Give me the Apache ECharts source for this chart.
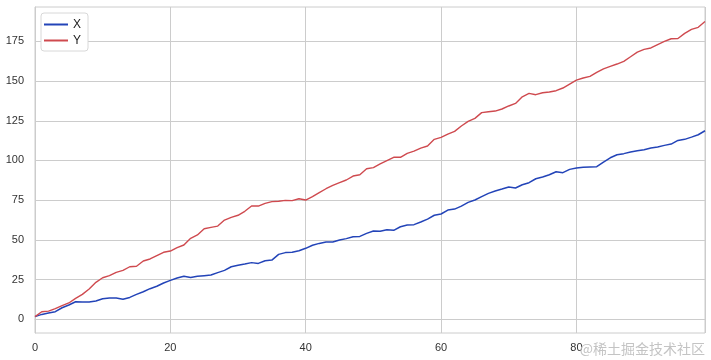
<!DOCTYPE html>
<html>
<head>
<meta charset="utf-8">
<script src="https://cdn.jsdelivr.net/npm/echarts@6/dist/echarts.min.js"></script>
<style>
html,body{margin:0;padding:0;background:#fff;}
#chart{width:711px;height:360px;}
</style>
</head>
<body>
<div id="chart"></div>
<script>
var seriesNames = ['X', 'Y'];
var xValues = [
  1.7, 3.1, 4.0, 4.8, 7.3, 9.0, 11.1, 10.9, 10.9, 11.5,
  13.0, 13.4, 13.4, 12.6, 13.8, 15.7, 17.4, 19.3, 20.8, 22.9,
  24.5, 26.0, 27.1, 26.4, 27.1, 27.5, 27.9, 29.4, 30.8, 33.1,
  34.0, 34.8, 35.7, 35.2, 36.9, 37.3, 40.9, 42.0, 42.2, 43.2,
  44.7, 46.6, 47.8, 48.7, 48.7, 49.9, 50.8, 52.0, 52.2, 54.1,
  55.6, 55.4, 56.4, 56.0, 58.3, 59.4, 59.6, 61.3, 63.1, 65.5,
  66.3, 68.8, 69.4, 71.3, 73.6, 75.1, 77.2, 79.3, 80.8, 82.0,
  83.3, 82.7, 84.7, 86.0, 88.5, 89.6, 91.0, 92.9, 92.3, 94.4,
  95.2, 95.7, 95.9, 96.1, 99.0, 101.7, 103.6, 104.3, 105.3, 106.1,
  106.8, 107.8, 108.5, 109.5, 110.3, 112.6, 113.3, 114.7, 116.2, 118.7
];
var yValues = [
  1.7, 4.8, 5.2, 6.7, 8.6, 10.3, 13.2, 15.7, 19.1, 23.3,
  26.2, 27.5, 29.6, 30.8, 33.1, 33.4, 36.7, 38.0, 40.1, 42.2,
  43.0, 45.1, 46.8, 51.0, 53.1, 57.0, 57.9, 58.7, 62.5, 64.2,
  65.5, 68.0, 71.3, 71.3, 73.0, 74.1, 74.3, 74.9, 74.7, 75.9,
  75.1, 77.2, 79.7, 82.2, 84.3, 86.0, 87.7, 90.2, 91.0, 94.8,
  95.5, 97.8, 99.9, 102.0, 102.0, 104.5, 105.9, 107.8, 109.1, 113.3,
  114.5, 116.6, 118.3, 121.7, 124.6, 126.5, 130.1, 130.7, 131.1, 132.4,
  134.3, 135.9, 140.1, 142.2, 141.4, 142.6, 143.1, 143.9, 145.6, 148.1,
  150.6, 151.9, 152.9, 155.4, 157.7, 159.2, 160.7, 162.4, 165.3, 168.2,
  169.9, 170.8, 172.9, 174.9, 176.6, 176.8, 180.0, 182.5, 183.8, 187.5
];
var yTickLabels = [0, 25, 50, 75, 100, 125, 150, 175];
var xTickStep = 20;
var yTickStep = 25;
var colors = ['#2344b8', '#cf4a4f'];

function pairs(arr) {
  return arr.map(function (v, i) { return [i, v]; });
}

var W = 711, H = 360;
var plotTop = 7, plotBottomGap = 27, plotLeft = 35, plotRight = 6;
var yMin = -8.6, yMax = 196.6;
var plotH = H - plotTop - plotBottomGap;
var pxPerUnit = plotH / (yMax - yMin);
var tickLo = yTickLabels[0], tickHi = yTickLabels[yTickLabels.length - 1];
var gridBTop = plotTop + (yMax - tickHi) * pxPerUnit;
var gridBBottom = plotBottomGap + (tickLo - yMin) * pxPerUnit;

var chart = echarts.init(document.getElementById('chart'), null, {renderer: 'canvas'});
var labelFont = {color: '#333333', fontSize: 11, fontFamily: 'Liberation Sans, Arial, sans-serif'};

chart.setOption({
  animation: false,
  backgroundColor: '#ffffff',
  grid: [
    {left: plotLeft, right: plotRight, top: plotTop, bottom: plotBottomGap, show: true, borderColor: '#cccccc', borderWidth: 1},
    {left: plotLeft, right: plotRight, top: gridBTop, bottom: gridBBottom, show: false}
  ],
  legend: {
    data: seriesNames,
    orient: 'vertical',
    left: 41, top: 13,
    padding: [5, 7, 4, 3],
    itemWidth: 24, itemHeight: 2, itemGap: 3,
    icon: 'rect',
    backgroundColor: '#ffffff',
    borderColor: '#d8d8d8', borderWidth: 1, borderRadius: 3,
    textStyle: {color: '#222222', fontSize: 12, fontFamily: 'Liberation Sans, Arial, sans-serif', lineHeight: 13}
  },
  xAxis: [
    {
      gridIndex: 0, type: 'value', min: 0, max: xValues.length - 1, interval: xTickStep,
      axisLine: {show: true, lineStyle: {color: '#cccccc'}},
      axisTick: {show: false},
      axisLabel: Object.assign({margin: 9, showMaxLabel: false, formatter: function (v) { return v % xTickStep === 0 ? String(v) : ''; }}, labelFont),
      splitLine: {show: true, lineStyle: {color: '#cccccc', width: 1}}
    },
    {
      gridIndex: 1, type: 'value', min: 0, max: xValues.length - 1, show: false
    }
  ],
  yAxis: [
    {
      gridIndex: 0, type: 'value', min: yMin, max: yMax,
      axisLine: {show: true, lineStyle: {color: '#cccccc'}},
      axisTick: {show: false},
      axisLabel: {show: false},
      splitLine: {show: false}
    },
    {
      gridIndex: 1, type: 'value', min: tickLo, max: tickHi, interval: yTickStep,
      axisLine: {show: false},
      axisTick: {show: false},
      axisLabel: Object.assign({margin: 11}, labelFont),
      splitLine: {show: true, lineStyle: {color: '#cccccc', width: 1}}
    }
  ],
  series: [
    {name: seriesNames[0], type: 'line', xAxisIndex: 0, yAxisIndex: 0, data: pairs(xValues), showSymbol: false, symbol: 'none', z: 3, lineStyle: {color: colors[0], width: 1.5}, itemStyle: {color: colors[0]}},
    {name: seriesNames[1], type: 'line', xAxisIndex: 0, yAxisIndex: 0, data: pairs(yValues), showSymbol: false, symbol: 'none', z: 3, lineStyle: {color: colors[1], width: 1.4}, itemStyle: {color: colors[1]}}
  ],
  graphic: [{
    type: 'text', right: 6, bottom: 4, silent: true, z: 100,
    style: {text: '@稀土掘金技术社区', fill: '#c4c4c4', font: '14px "Noto Sans CJK SC"'}
  }]
});
</script>
</body>
</html>
